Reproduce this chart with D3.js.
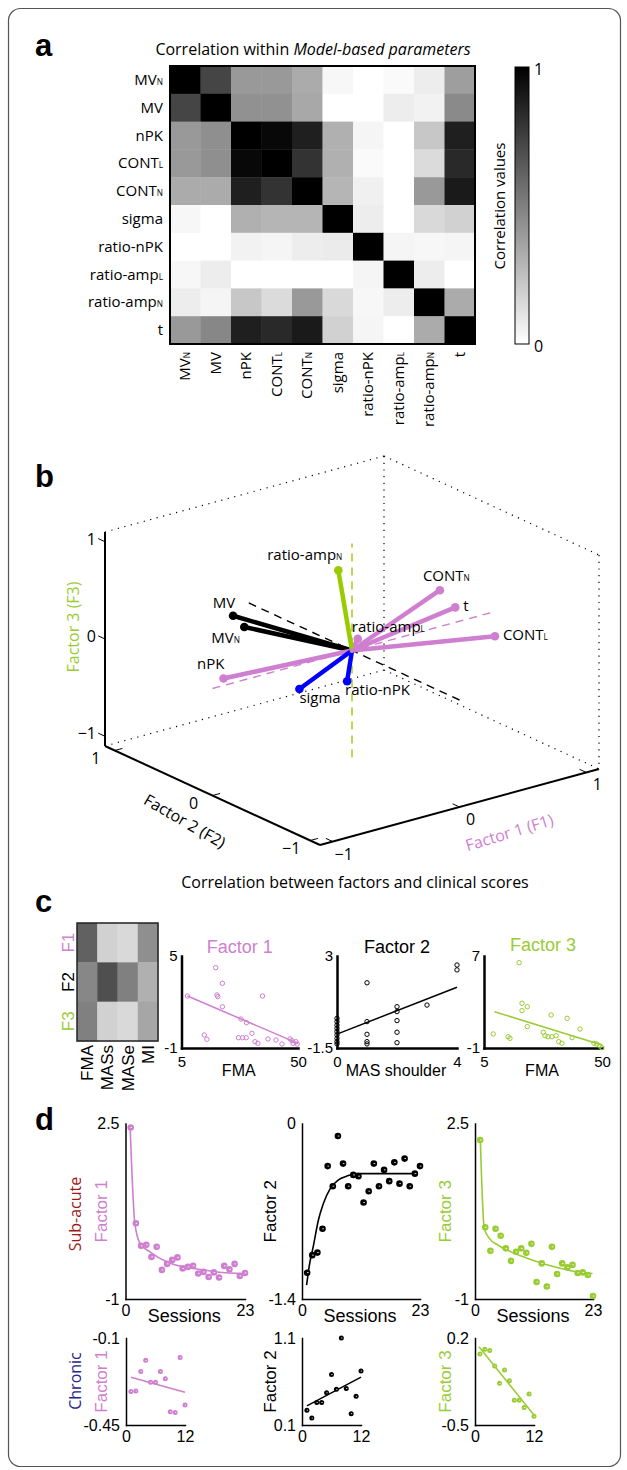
<!DOCTYPE html>
<html>
<head>
<meta charset="utf-8">
<script src="https://cdn.jsdelivr.net/npm/d3@7/dist/d3.min.js"></script>
<style>
  body { margin: 0; background: #fff; }
</style>
</head>
<body>
<svg id="fig"></svg>
<script>
// ---------- data: panel a (correlation within model-based parameters)
const paramBase = ["MV", "MV", "nPK", "CONT", "CONT", "sigma", "ratio-nPK", "ratio-amp", "ratio-amp", "t"];
const paramSub  = ["N", "", "", "L", "N", "", "", "L", "N", ""];
const corr = [
  [1.00, 0.73, 0.40, 0.40, 0.33, 0.03, 0.00, 0.02, 0.07, 0.38],
  [0.73, 1.00, 0.43, 0.43, 0.34, 0.00, 0.00, 0.07, 0.05, 0.46],
  [0.40, 0.44, 1.00, 0.97, 0.88, 0.31, 0.04, 0.00, 0.22, 0.88],
  [0.40, 0.44, 0.97, 1.00, 0.80, 0.31, 0.02, 0.00, 0.14, 0.84],
  [0.33, 0.33, 0.88, 0.80, 1.00, 0.29, 0.06, 0.00, 0.40, 0.90],
  [0.03, 0.00, 0.31, 0.29, 0.29, 1.00, 0.07, 0.00, 0.15, 0.18],
  [0.00, 0.00, 0.05, 0.04, 0.07, 0.08, 1.00, 0.04, 0.03, 0.04],
  [0.03, 0.07, 0.00, 0.00, 0.00, 0.00, 0.04, 1.00, 0.07, 0.00],
  [0.07, 0.04, 0.22, 0.14, 0.40, 0.15, 0.03, 0.07, 1.00, 0.33],
  [0.40, 0.47, 0.88, 0.84, 0.90, 0.18, 0.04, 0.00, 0.33, 1.00]
];

// ---------- data: panel b (factor loadings, F1 / F2 / F3)
const vecName  = ["MV", "MV", "nPK", "CONT", "CONT", "sigma", "ratio-nPK", "ratio-amp", "ratio-amp", "t"];
const vecSub   = ["N", "", "", "L", "N", "", "", "L", "N", ""];
const vecF1    = [-0.04, -0.09, -0.99, 1.05, 0.77, -0.33, 0.00, 0.03, 0.00, 0.86];
const vecF2    = [1.05, 1.10, 0.03, -0.10, 0.10, 0.11, 0.05, -0.02, 0.14, 0.06];
const vecF3    = [-0.23, -0.12, 0.05, -0.18, 0.30, -0.33, -0.34, 0.12, 0.76, 0.11];
const vecGroup = ["F2", "F2", "F1", "F1", "F1", "none", "none", "F1", "F3", "F1"];
const axisTicks3 = [-1, 0, 1];

// ---------- data: panel c (factors vs clinical scores)
const clinScores = ["FMA", "MASs", "MASe", "MI"];
const factorNames = ["F1", "F2", "F3"];
const clinCorr = [
  [0.62, 0.18, 0.15, 0.44],
  [0.47, 0.69, 0.50, 0.31],
  [0.50, 0.18, 0.15, 0.35]
];
const c1FMA = [7.3, 18.2, 20.8, 18.7, 19.0, 20.8, 36.3, 13.8, 14.8, 28.0, 30.1, 27.0, 28.6, 30.0, 32.2, 33.4, 34.5, 38.4, 41.5, 43.8, 46.9, 47.7, 48.1, 49.2, 49.7];
const c1F   = [2.39, 4.24, 3.22, 2.46, 2.35, 1.69, 2.39, -0.15, -0.43, 0.89, 0.65, -0.33, -0.33, -0.33, -0.04, -0.59, -0.69, -0.41, -0.48, -0.74, -0.41, -0.52, -0.69, -0.59, -0.74];
const c1FitX = [7.3, 50], c1FitY = [2.39, -0.7];
const c2MAS = [0, 0, 0, 0, 0, 0, 0, 0, 0, 1, 1, 1, 1, 1, 2, 2, 2, 2, 2, 3, 4, 4];
const c2F   = [-0.05, -0.21, -0.38, -0.54, -0.70, -0.86, -1.03, -1.19, -1.30, 1.69, -0.21, -0.83, -1.19, -1.30, 0.52, 0.28, -0.16, -0.73, -1.24, 0.60, 2.56, 2.32];
const c2FitX = [0, 4], c2FitY = [-0.82, 1.47];
const c3FMA = [18.4, 19.5, 21.5, 19.5, 21.5, 8.5, 14.2, 14.9, 30.6, 36.7, 41.6, 27.6, 28.3, 29.4, 30.9, 32.5, 33.5, 34.7, 38.6, 46.9, 48.0, 49.2, 50.0];
const c3F   = [6.42, 2.89, 2.59, 2.25, 0.86, 0.22, -0.02, -0.16, 1.87, 1.58, 0.65, 0.37, 0.07, -0.02, -0.02, 0.07, -0.45, -0.59, -0.10, -0.59, -0.65, -0.83, -0.97];
const c3FitX = [9, 50], c3FitY = [2.16, -0.74];

// ---------- data: panel d (sessions)
const subSessions = [1, 2, 3, 4, 5, 6, 7, 8, 9, 10, 11, 12, 13, 14, 15, 16, 17, 18, 19, 20, 21, 22, 23];
const sub1F = [2.42, 0.51, 0.06, 0.08, -0.16, 0.04, -0.42, -0.30, -0.22, -0.17, -0.39, -0.36, -0.34, -0.49, -0.46, -0.56, -0.47, -0.57, -0.34, -0.41, -0.30, -0.54, -0.48];
const sub1FitS = [0.9, 1.8, 2.8, 4.7, 8.0, 11.3, 14.4, 17.6, 22.9];
const sub1FitF = [2.42, 0.51, 0.11, -0.06, -0.26, -0.36, -0.41, -0.46, -0.49];
const sub2F = [-1.19, -1.05, -1.03, -0.84, -0.34, -0.50, -0.10, -0.32, -0.50, -0.41, -0.42, -0.63, -0.54, -0.32, -0.50, -0.37, -0.46, -0.31, -0.48, -0.28, -0.50, -0.40, -0.34];
const sub2FitS = [0.9, 1.4, 2.2, 3.2, 4.15, 5.5, 7.1, 8.7, 10.7, 13.9, 17.2, 22.0];
const sub2FitF = [-1.29, -1.14, -0.98, -0.77, -0.64, -0.52, -0.45, -0.42, -0.40, -0.40, -0.40, -0.40];
const sub3F = [2.17, 0.43, -0.04, 0.40, 0.26, 0.01, -0.24, -0.06, 0.01, -0.08, 0.10, -0.66, -0.29, -0.75, 0.04, -0.50, -0.29, -0.37, -0.32, -0.48, -0.47, -0.52, -0.94];
const sub3FitS = [1.04, 1.8, 2.8, 4.4, 7.0, 10.3, 13.5, 16.8, 20.0, 22.9];
const sub3FitF = [2.17, 0.41, 0.21, 0.08, -0.06, -0.19, -0.30, -0.39, -0.46, -0.49];

const chrSessions = [1, 2, 3, 4, 5, 6, 7, 8, 9, 10, 11, 12];
const chr1F = [-0.315, -0.313, -0.235, -0.19, -0.278, -0.278, -0.235, -0.264, -0.397, -0.40, -0.178, -0.37];
const chr1FitS = [1, 12], chr1FitF = [-0.258, -0.318];
const chr2F = [0.27, 0.18, 0.36, 0.36, 0.47, 0.68, 0.51, 1.10, 0.52, 0.23, 0.43, 0.72];
const chr2FitS = [1, 12], chr2FitF = [0.32, 0.65];
const chr3S = [1, 2, 3, 4, 6, 5, 7, 8, 9, 11, 10, 12];
const chr3F = [0.071, 0.109, 0.10, -0.025, -0.057, -0.165, -0.143, -0.30, -0.30, -0.25, -0.36, -0.43];
const chr3FitS = [0.8, 12], chr3FitF = [0.13, -0.42];

// ---------- setup
const W = 627, H = 1470;
const FS = "'Open Sans', 'DejaVu Sans', sans-serif";
const FA = "'Liberation Sans', Arial, sans-serif";
const PINK = "#cf7fcf", GREEN = "#99cc33", LIME = "#99cc00", BLUE = "#0000ff";
const groupColor = { F1: PINK, F2: "#000", F3: LIME, none: BLUE };

const svg = d3.select("#fig").attr("width", W).attr("height", H);
svg.append("rect").attr("width", W).attr("height", H).attr("fill", "#fff");
svg.append("rect").attr("x", 8.5).attr("y", 8.5).attr("width", 612).attr("height", 1458)
  .attr("rx", 12).attr("fill", "none").attr("stroke", "#555").attr("stroke-width", 1.2);

function txt(g, x, y, s, o = {}) {
  const t = g.append("text").attr("x", x).attr("y", y).text(s)
    .attr("font-family", o.family || FS).attr("font-size", o.size || 15)
    .attr("fill", o.color || "#000").attr("text-anchor", o.anchor || "start");
  if (o.rotate !== undefined) t.attr("transform", `rotate(${o.rotate},${x},${y})`);
  if (o.weight) t.attr("font-weight", o.weight);
  if (o.baseline) t.attr("dominant-baseline", o.baseline);
  return t;
}
function addSub(t, base, sub) {
  t.text(null);
  t.append("tspan").text(base);
  if (sub) t.append("tspan").attr("font-size", "0.55em").text(sub);
}

// panel letters
[["a", 56], ["b", 487], ["c", 912], ["d", 1130]].forEach(([l, y]) =>
  txt(svg, 35, y, l, { family: FA, size: 31, weight: "bold" }));

// ---------- panel a
const ga = svg.append("g");
const ttl = txt(ga, 313, 55, "", { anchor: "middle", size: 16 });
ttl.append("tspan").text("Correlation within ");
ttl.append("tspan").attr("font-style", "italic").text("Model-based parameters");

const hx = d3.scaleBand().domain(d3.range(paramBase.length)).range([170, 475]);
const hy = d3.scaleBand().domain(d3.range(paramBase.length)).range([66, 344]);
const gray = d3.scaleLinear().domain([0, 1]).range(["#ffffff", "#000000"]);

ga.selectAll("rect.cell")
  .data(corr.flatMap((row, i) => row.map((v, j) => ({ i, j, v }))))
  .join("rect").attr("class", "cell")
  .attr("x", d => hx(d.j)).attr("y", d => hy(d.i))
  .attr("width", hx.bandwidth() + 0.4).attr("height", hy.bandwidth() + 0.4)
  .attr("fill", d => gray(d.v));
ga.append("rect").attr("x", hx.range()[0]).attr("y", hy.range()[0])
  .attr("width", hx.range()[1] - hx.range()[0]).attr("height", hy.range()[1] - hy.range()[0])
  .attr("fill", "none").attr("stroke", "#000").attr("stroke-width", 2);

paramBase.forEach((b, i) => {
  const r = txt(ga, 163, hy(i) + hy.bandwidth() / 2 + 5, "", { anchor: "end" });
  addSub(r, b, paramSub[i]);
  const cx = hx(i) + hx.bandwidth() / 2 + 5;
  const c = txt(ga, cx, 352, "", { anchor: "end", rotate: -90 });
  addSub(c, b, paramSub[i]);
});

// colorbar
const defs = svg.append("defs");
const grad = defs.append("linearGradient").attr("id", "cbar").attr("x1", 0).attr("y1", 1).attr("x2", 0).attr("y2", 0);
grad.append("stop").attr("offset", "0%").attr("stop-color", gray(0));
grad.append("stop").attr("offset", "100%").attr("stop-color", gray(1));
const cbY = d3.scaleLinear().domain([0, 1]).range([344, 67]);
ga.append("rect").attr("x", 515).attr("y", cbY(1)).attr("width", 14).attr("height", cbY(0) - cbY(1))
  .attr("fill", "url(#cbar)").attr("stroke", "#000").attr("stroke-width", 1);
[0, 1].forEach(v => txt(ga, 534, cbY(v) + 2, String(v), { size: 16, baseline: "central" }));
txt(ga, 505, 206, "Correlation values", { anchor: "middle", rotate: -90 });

// ---------- panel b (3D loadings)
const gb = svg.append("g");
const L3 = 1.1;
const u = d3.scaleLinear().domain([-L3, L3]).range([-1, 1]);
const C3 = [352, 650.5], E1 = [139.5, -38], E2 = [-107.5, -49.5], E3 = [0, -107];
const proj = (a, b, c) => [
  C3[0] + u(a) * E1[0] + u(b) * E2[0] + u(c) * E3[0],
  C3[1] + u(a) * E1[1] + u(b) * E2[1] + u(c) * E3[1]
];
const seg = (p, q, o) => gb.append("line")
  .attr("x1", p[0]).attr("y1", p[1]).attr("x2", q[0]).attr("y2", q[1])
  .attr("stroke", o.color || "#000").attr("stroke-width", o.w || 1)
  .attr("stroke-dasharray", o.dash || null).attr("stroke-linecap", o.cap || "butt");

const L = L3;
// dotted back edges of the box
[[[L, L, L], [-L, L, L]], [[L, L, L], [L, -L, L]], [[L, L, L], [L, L, -L]],
 [[L, -L, L], [L, -L, -L]], [[L, L, -L], [-L, L, -L]], [[L, L, -L], [L, -L, -L]]]
  .forEach(([p, q]) => seg(proj(...p), proj(...q), { w: 1.2, dash: "1.2,5.5" }));
// solid axes
seg(proj(-L, L, -L), proj(-L, L, L), { w: 2 });
seg(proj(-L, L, -L), proj(-L, -L, -L), { w: 2 });
seg(proj(-L, -L, -L), proj(L, -L, -L), { w: 2 });

// ticks and tick labels
axisTicks3.forEach(t => {
  const lab = t < 0 ? "\u22121" : String(t);
  let p = proj(t, -L, -L);
  seg(p, proj(t, -L + 0.07, -L), { w: 1 });
  txt(gb, p[0] + 11, p[1] + 12, lab, { anchor: "middle", baseline: "central", size: 16 });
  p = proj(-L, t, -L);
  seg(p, proj(-L + 0.06, t, -L), { w: 1 });
  txt(gb, p[0] - 19, p[1] + 7, lab, { anchor: "middle", baseline: "central", size: 16 });
  p = proj(-L, L, t);
  seg(p, proj(-L, L + 0.07, t), { w: 1 });
  txt(gb, p[0] - 9, p[1] - 3, lab, { anchor: "end", baseline: "central", size: 16 });
});

// dashed axes through the origin
seg(proj(0, -L, 0), proj(0, L, 0), { w: 1.4, dash: "8,6" });
seg(proj(-L, 0, 0), proj(L, 0, 0), { w: 1.4, dash: "8,6", color: PINK });
seg(proj(0, 0, -L), proj(0, 0, L), { w: 1.4, dash: "8,6", color: LIME });

// loading vectors
const origin = proj(0, 0, 0);
const labelPos = [
  ["start", -33, 16], ["middle", -9, -8], ["end", 1, -9], ["start", 8, 4], ["start", -17, -9],
  ["start", 0, 14], ["start", -2, 14], ["start", -6, -7], ["end", 4, -10], ["start", 8, 4]
];
vecName.forEach((n, i) => {
  const p = proj(vecF1[i], vecF2[i], vecF3[i]);
  const col = groupColor[vecGroup[i]];
  seg(origin, p, { w: 4.5, color: col, cap: "round" });
  gb.append("circle").attr("cx", p[0]).attr("cy", p[1]).attr("r", 4.3).attr("fill", col);
});
vecName.forEach((n, i) => {
  const p = proj(vecF1[i], vecF2[i], vecF3[i]);
  const [anc, dx, dy] = labelPos[i];
  const t = txt(gb, p[0] + dx, p[1] + dy, "", { anchor: anc });
  addSub(t, n, vecSub[i]);
});

// axis titles
txt(gb, 79, 627, "Factor 3 (F3)", { anchor: "middle", rotate: -90, color: GREEN, size: 16 });
txt(gb, 182, 826, "Factor 2 (F2)", { anchor: "middle", rotate: 30, size: 16 });
txt(gb, 511, 838, "Factor 1 (F1)", { anchor: "middle", rotate: -17, color: PINK, size: 16 });

// ---------- panel c
const gc = svg.append("g");
txt(gc, 355, 888, "Correlation between factors and clinical scores", { anchor: "middle", size: 16 });
const ccx = d3.scaleBand().domain(clinScores).range([77, 158]);
const ccy = d3.scaleBand().domain(factorNames).range([923, 1041]);
const factorColor = [PINK, "#000", GREEN];
clinCorr.forEach((row, i) => row.forEach((v, j) => {
  gc.append("rect").attr("x", ccx(clinScores[j])).attr("y", ccy(factorNames[i]))
    .attr("width", ccx.bandwidth() + 0.4).attr("height", ccy.bandwidth() + 0.4).attr("fill", gray(v));
}));
gc.append("rect").attr("x", 77).attr("y", 923).attr("width", 81).attr("height", 118)
  .attr("fill", "none").attr("stroke", "#222").attr("stroke-width", 1.5);
factorNames.forEach((f, i) =>
  txt(gc, 74, ccy(f) + ccy.bandwidth() / 2, f, { anchor: "middle", rotate: -90, color: factorColor[i], family: FA, size: 17 }));
clinScores.forEach(s =>
  txt(gc, ccx(s) + ccx.bandwidth() / 2 + 6, 1045, s, { anchor: "end", rotate: -90, family: FA, size: 17 }));

function scatter(o) {
  const g = svg.append("g");
  const x = d3.scaleLinear().domain(o.xd).range([o.x0, o.x1]);
  const y = d3.scaleLinear().domain(o.yd).range([o.y1, o.y0]);
  const fmt = d => String(d);
  const ya = g.append("g").attr("transform", `translate(${o.x0},0)`)
    .call(d3.axisLeft(y).tickValues(o.yd).tickSize(0).tickPadding(o.padY).tickFormat(fmt));
  const xa = g.append("g").attr("transform", `translate(0,${o.y1})`)
    .call(d3.axisBottom(x).tickValues(o.xd).tickSize(0).tickPadding(o.padX).tickFormat(fmt));
  [ya, xa].forEach(a => {
    a.attr("font-family", FA).attr("font-size", o.tick);
    a.select(".domain").attr("stroke-width", o.lw).attr("stroke-linecap", "square");
  });
  g.append("path").datum(d3.zip(o.fitX, o.fitY))
    .attr("d", d3.line().x(d => x(d[0])).y(d => y(d[1])).curve(d3.curveMonotoneX))
    .attr("fill", "none").attr("stroke", o.color).attr("stroke-width", o.fitW);
  const pts = d3.zip(o.px, o.py);
  if (o.filled) {
    g.selectAll("circle.p").data(pts).join("circle").attr("class", "p")
      .attr("cx", d => x(d[0])).attr("cy", d => y(d[1])).attr("r", o.r).attr("fill", o.color);
    g.selectAll("rect.h").data(pts).join("rect").attr("class", "h")
      .attr("x", d => x(d[0]) - 0.2).attr("y", d => y(d[1]) - 0.4)
      .attr("width", o.r * 0.5).attr("height", 0.8).attr("fill", "#fff");
  } else {
    g.selectAll("circle.p").data(pts).join("circle").attr("class", "p")
      .attr("cx", d => x(d[0])).attr("cy", d => y(d[1])).attr("r", o.r)
      .attr("fill", "none").attr("stroke", o.color).attr("stroke-width", 1);
  }
  const mid = (o.x0 + o.x1) / 2;
  if (o.title) txt(g, mid, o.titleY, o.title, { anchor: "middle", family: FA, size: 18, color: o.titleColor });
  if (o.xlabel) txt(g, mid - 1, o.xlabelY, o.xlabel, { anchor: "middle", family: FA, size: o.xlabelSize });
  if (o.ylabel) txt(g, o.ylabelX, (o.y0 + o.y1) / 2, o.ylabel, { anchor: "middle", rotate: -90, family: FA, size: 17, color: o.titleColor });
  return g;
}

const cBase = { y0: 956, y1: 1048, tick: 15, lw: 2.5, padY: 4, padX: 8, fitW: 1.5, r: 2.2, filled: false, titleY: 953, xlabelY: 1076, xlabelSize: 16 };
scatter({ ...cBase, x0: 181.5, x1: 298, xd: [5, 50], yd: [-1, 5], px: c1FMA, py: c1F, fitX: c1FitX, fitY: c1FitY, color: PINK, title: "Factor 1", titleColor: PINK, xlabel: "FMA" });
scatter({ ...cBase, x0: 337, x1: 457, xd: [0, 4], yd: [-1.5, 3], px: c2MAS, py: c2F, fitX: c2FitX, fitY: c2FitY, color: "#000", title: "Factor 2", titleColor: "#000", xlabel: "MAS shoulder" });
scatter({ ...cBase, x0: 484, x1: 602, xd: [5, 50], yd: [-1, 7], px: c3FMA, py: c3F, fitX: c3FitX, fitY: c3FitY, color: GREEN, title: "Factor 3", titleColor: GREEN, xlabel: "FMA", titleY: 951 });

// ---------- panel d
const dTop = { y0: 1123.5, y1: 1299, xd: [0, 23], tick: 16, lw: 1.5, padY: 6, padX: 6, fitW: 1.6, r: 3.3, filled: true, xlabel: "Sessions", xlabelY: 1322, xlabelSize: 18 };
scatter({ ...dTop, x0: 125.5, x1: 245, yd: [-1, 2.5], px: subSessions, py: sub1F, fitX: sub1FitS, fitY: sub1FitF, color: PINK, titleColor: PINK, ylabel: "Factor 1", ylabelX: 107 });
scatter({ ...dTop, x0: 302, x1: 420, yd: [-1.4, 0], px: subSessions, py: sub2F, fitX: sub2FitS, fitY: sub2FitF, color: "#000", titleColor: "#000", ylabel: "Factor 2", ylabelX: 276 });
scatter({ ...dTop, x0: 475, x1: 593, yd: [-1, 2.5], px: subSessions, py: sub3F, fitX: sub3FitS, fitY: sub3FitF, color: GREEN, titleColor: GREEN, ylabel: "Factor 3", ylabelX: 451 });

const dBot = { y0: 1338, y1: 1425, xd: [0, 12], tick: 16, lw: 1.5, padY: 6, padX: 6, fitW: 1.5, r: 2.5, filled: true };
scatter({ ...dBot, x0: 126, x1: 185, yd: [-0.45, -0.1], px: chrSessions, py: chr1F, fitX: chr1FitS, fitY: chr1FitF, color: PINK, titleColor: PINK, ylabel: "Factor 1", ylabelX: 107 });
scatter({ ...dBot, x0: 302, x1: 361, yd: [0.1, 1.1], px: chrSessions, py: chr2F, fitX: chr2FitS, fitY: chr2FitF, color: "#000", titleColor: "#000", ylabel: "Factor 2", ylabelX: 276 });
scatter({ ...dBot, x0: 475, x1: 534, yd: [-0.5, 0.2], px: chr3S, py: chr3F, fitX: chr3FitS, fitY: chr3FitF, color: GREEN, titleColor: GREEN, ylabel: "Factor 3", ylabelX: 451 });

txt(svg, 81, 1214, "Sub-acute", { anchor: "middle", rotate: -90, color: "#9b1b1b", size: 16 });
txt(svg, 81, 1381, "Chronic", { anchor: "middle", rotate: -90, color: "#26268c", size: 16 });
</script>
</body>
</html>
